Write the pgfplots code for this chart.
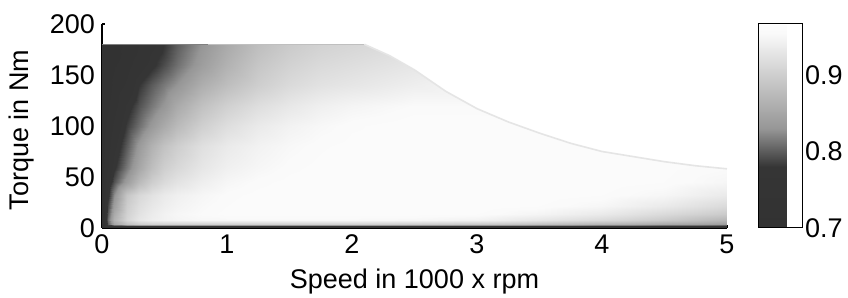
\documentclass[border=0pt]{standalone}
\usepackage{fontspec}
\setmainfont{Liberation Sans}
\usepackage{pgfplots}
\pgfplotsset{compat=1.18}
% colormap positions: (efficiency - 0.70) * 1000 pt
\pgfplotsset{colormap={eff}{rgb255(0pt)=(50,50,50) rgb255(80pt)=(53,53,53) rgb255(130pt)=(150,150,150) rgb255(255pt)=(250,250,250) rgb255(267pt)=(252,252,252)}}
\newcommand{\lblfont}{\fontsize{13.5}{16}\selectfont}
\begin{document}
\begin{tikzpicture}
\begin{axis}[
  name=ax,
  scale only axis,
  width=312.5pt, height=102pt,
  xmin=0, xmax=5, ymin=0, ymax=200,
  xtick={0,1,2,3,4,5}, ytick={0,50,100,150,200},
  axis x line=bottom, axis y line=left,
  axis line style={-, line width=0.6pt},
  tick align=inside, major tick length=1.6pt,
  tick style={line width=0.6pt, black},
  /pgf/number format/assume math mode=true,
  tick label style={font=\lblfont},
  label style={font=\lblfont},
  xlabel={Speed in 1000 x rpm},
  ylabel={Torque in Nm},
  xlabel style={at={(axis description cs:0.5,-0.262)}, anchor=center},
  ylabel style={at={(axis description cs:-0.128,0.48)}, anchor=center},
  colormap name=eff,
  point meta min=0.7, point meta max=0.967,
  colorbar,
  colorbar style={
    width=22pt,
    at={(parent axis.north east)}, anchor=north west, xshift=7pt,
    ytick={0.7,0.8,0.9},
    major tick length=0pt,
    axis line style={line width=0.5pt},
    /pgf/number format/fixed,
    /pgf/number format/fixed zerofill,
    /pgf/number format/precision=1,
    /pgf/number format/assume math mode=true,
    yticklabel style={font=\lblfont, xshift=-2pt},
  },
]
\addplot[surf, shader=interp, mesh/cols=20, point meta=\thisrow{e}] table {
x y e
0 0 0.70
0.05 0 0.70
0.1 0 0.70
0.2 0 0.70
0.3 0 0.70
0.4 0 0.70
0.5 0 0.70
0.6 0 0.70
0.8 0 0.70
1.0 0 0.70
1.25 0 0.70
1.5 0 0.70
1.75 0 0.70
2.0 0 0.70
2.5 0 0.70
3.0 0 0.70
3.5 0 0.70
4.0 0 0.70
4.5 0 0.70
5.0 0 0.70

0 1.5 0.70
0.05 1.5 0.77
0.1 1.5 0.77
0.2 1.5 0.77
0.3 1.5 0.77
0.4 1.5 0.77
0.5 1.5 0.77
0.6 1.5 0.77
0.8 1.5 0.77
1.0 1.5 0.77
1.25 1.5 0.77
1.5 1.5 0.77
1.75 1.5 0.77
2.0 1.5 0.77
2.5 1.5 0.77
3.0 1.5 0.77
3.5 1.5 0.77
4.0 1.5 0.77
4.5 1.5 0.77
5.0 1.5 0.77

0 4 0.70
0.05 4 0.80
0.1 4 0.85
0.2 4 0.885
0.3 4 0.90
0.4 4 0.905
0.5 4 0.905
0.6 4 0.905
0.8 4 0.905
1.0 4 0.905
1.25 4 0.905
1.5 4 0.905
1.75 4 0.905
2.0 4 0.905
2.5 4 0.90
3.0 4 0.895
3.5 4 0.885
4.0 4 0.87
4.5 4 0.855
5.0 4 0.84

0 8 0.70
0.05 8 0.81
0.1 8 0.865
0.2 8 0.91
0.3 8 0.93
0.4 8 0.94
0.5 8 0.945
0.6 8 0.948
0.8 8 0.952
1.0 8 0.952
1.25 8 0.952
1.5 8 0.952
1.75 8 0.952
2.0 8 0.952
2.5 8 0.95
3.0 8 0.945
3.5 8 0.93
4.0 8 0.915
4.5 8 0.895
5.0 8 0.87

0 14 0.70
0.05 14 0.80
0.1 14 0.855
0.2 14 0.905
0.3 14 0.925
0.4 14 0.937
0.5 14 0.945
0.6 14 0.95
0.8 14 0.955
1.0 14 0.96
1.25 14 0.96
1.5 14 0.96
1.75 14 0.96
2.0 14 0.96
2.5 14 0.96
3.0 14 0.958
3.5 14 0.948
4.0 14 0.935
4.5 14 0.915
5.0 14 0.895

0 22 0.70
0.05 22 0.79
0.1 22 0.84
0.2 22 0.90
0.3 22 0.92
0.4 22 0.932
0.5 22 0.94
0.6 22 0.946
0.8 22 0.953
1.0 22 0.958
1.25 22 0.962
1.5 22 0.963
1.75 22 0.963
2.0 22 0.963
2.5 22 0.963
3.0 22 0.962
3.5 22 0.958
4.0 22 0.95
4.5 22 0.935
5.0 22 0.915

0 32 0.70
0.05 32 0.775
0.1 32 0.825
0.2 32 0.89
0.3 32 0.912
0.4 32 0.925
0.5 32 0.935
0.6 32 0.942
0.8 32 0.95
1.0 32 0.956
1.25 32 0.96
1.5 32 0.963
1.75 32 0.963
2.0 32 0.963
2.5 32 0.963
3.0 32 0.963
3.5 32 0.962
4.0 32 0.958
4.5 32 0.95
5.0 32 0.935

0 45 0.70
0.05 45 0.76
0.1 45 0.795
0.2 45 0.84
0.3 45 0.875
0.4 45 0.90
0.5 45 0.915
0.6 45 0.926
0.8 45 0.94
1.0 45 0.95
1.25 45 0.956
1.5 45 0.96
1.75 45 0.963
2.0 45 0.963
2.5 45 0.963
3.0 45 0.963
3.5 45 0.963
4.0 45 0.962
4.5 45 0.958
5.0 45 0.95

0 60 0.70
0.05 60 0.74
0.1 60 0.775
0.2 60 0.815
0.3 60 0.85
0.4 60 0.88
0.5 60 0.90
0.6 60 0.912
0.8 60 0.93
1.0 60 0.942
1.25 60 0.95
1.5 60 0.956
1.75 60 0.96
2.0 60 0.963
2.5 60 0.963
3.0 60 0.963
3.5 60 0.963
4.0 60 0.963
4.5 60 0.96
5.0 60 0.955

0 80 0.70
0.05 80 0.73
0.1 80 0.76
0.2 80 0.80
0.3 80 0.835
0.4 80 0.865
0.5 80 0.885
0.6 80 0.90
0.8 80 0.922
1.0 80 0.935
1.25 80 0.945
1.5 80 0.952
1.75 80 0.957
2.0 80 0.96
2.5 80 0.963
3.0 80 0.963
3.5 80 0.963
4.0 80 0.96
4.5 80 0.955
5.0 80 0.95

0 100 0.70
0.05 100 0.72
0.1 100 0.745
0.2 100 0.785
0.3 100 0.81
0.4 100 0.835
0.5 100 0.855
0.6 100 0.875
0.8 100 0.902
1.0 100 0.92
1.25 100 0.935
1.5 100 0.945
1.75 100 0.952
2.0 100 0.957
2.5 100 0.962
3.0 100 0.962
3.5 100 0.96
4.0 100 0.955
4.5 100 0.95
5.0 100 0.95

0 120 0.70
0.05 120 0.71
0.1 120 0.73
0.2 120 0.77
0.3 120 0.795
0.4 120 0.815
0.5 120 0.832
0.6 120 0.855
0.8 120 0.884
1.0 120 0.903
1.25 120 0.92
1.5 120 0.932
1.75 120 0.942
2.0 120 0.948
2.5 120 0.955
3.0 120 0.955
3.5 120 0.95
4.0 120 0.95
4.5 120 0.95
5.0 120 0.95

0 140 0.70
0.05 140 0.70
0.1 140 0.72
0.2 140 0.745
0.3 140 0.78
0.4 140 0.80
0.5 140 0.815
0.6 140 0.83
0.8 140 0.86
1.0 140 0.88
1.25 140 0.90
1.5 140 0.915
1.75 140 0.925
2.0 140 0.93
2.5 140 0.94
3.0 140 0.95
3.5 140 0.95
4.0 140 0.95
4.5 140 0.95
5.0 140 0.95

0 160 0.70
0.05 160 0.70
0.1 160 0.71
0.2 160 0.73
0.3 160 0.755
0.4 160 0.775
0.5 160 0.792
0.6 160 0.81
0.8 160 0.84
1.0 160 0.865
1.25 160 0.89
1.5 160 0.905
1.75 160 0.915
2.0 160 0.92
2.5 160 0.93
3.0 160 0.94
3.5 160 0.94
4.0 160 0.94
4.5 160 0.94
5.0 160 0.94

0 170 0.70
0.05 170 0.70
0.1 170 0.70
0.2 170 0.725
0.3 170 0.745
0.4 170 0.77
0.5 170 0.785
0.6 170 0.805
0.8 170 0.835
1.0 170 0.86
1.25 170 0.885
1.5 170 0.90
1.75 170 0.91
2.0 170 0.915
2.5 170 0.925
3.0 170 0.93
3.5 170 0.93
4.0 170 0.93
4.5 170 0.93
5.0 170 0.93

0 180 0.70
0.05 180 0.70
0.1 180 0.70
0.2 180 0.72
0.3 180 0.74
0.4 180 0.76
0.5 180 0.78
0.6 180 0.80
0.8 180 0.83
1.0 180 0.855
1.25 180 0.88
1.5 180 0.895
1.75 180 0.905
2.0 180 0.91
2.5 180 0.915
3.0 180 0.92
3.5 180 0.92
4.0 180 0.92
4.5 180 0.92
5.0 180 0.92
};
% white region above the torque envelope
\addplot[fill=white, draw=none] coordinates {
(2.1,180) (2.3,169) (2.5,155) (2.75,134) (3,117) (3.25,104) (3.5,93)
(3.75,83) (4,75) (4.25,70) (4.5,65) (4.75,61) (5,58) (5.05,58) (5.05,185) (2.1,185)};
% envelope edges
\addplot[draw=black!50, line width=0.6pt] coordinates {(0,180) (0.85,180)};
\addplot[draw=black!25, line width=0.6pt] coordinates {(0.85,180) (2.1,180)};
\addplot[draw=black!10, line width=0.8pt] coordinates {
(2.1,180) (2.3,169) (2.5,155) (2.75,134) (3,117) (3.25,104) (3.5,93)
(3.75,83) (4,75) (4.25,70) (4.5,65) (4.75,61) (5,58)};
\end{axis}
\pgfresetboundingbox
\path ([shift={(-51pt,-35pt)}]ax.south west) rectangle ([shift={(373pt,114pt)}]ax.south west);
\end{tikzpicture}
\end{document}
